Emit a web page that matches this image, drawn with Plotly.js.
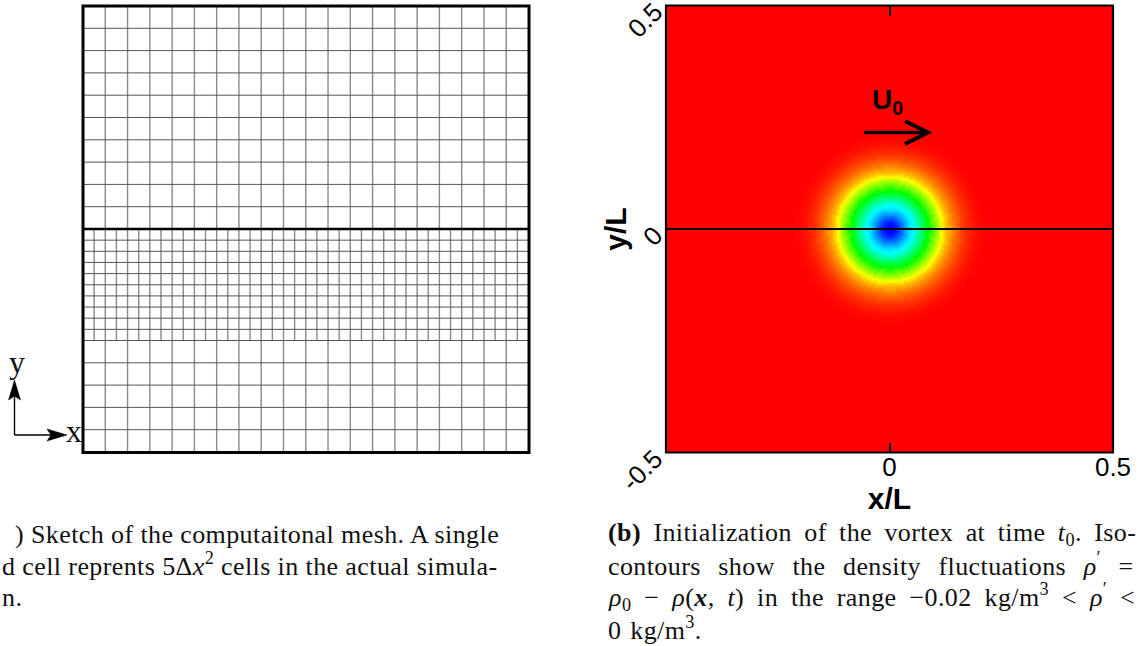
<!DOCTYPE html>
<html>
<head>
<meta charset="utf-8">
<script src="https://cdn.plot.ly/plotly-3.0.1.min.js"></script>
<style>
html,body{margin:0;padding:0;background:#fff}
#chart{width:1146px;height:646px}
.annotation[data-index="3"] text,.annotation[data-index="4"] text,.annotation[data-index="5"] text,
.annotation[data-index="6"] text,.annotation[data-index="7"] text,.annotation[data-index="8"] text,
.annotation[data-index="9"] text{letter-spacing:0.4px}
.annotation[data-index="6"] text{word-spacing:5.5px}
.annotation[data-index="7"] text{word-spacing:10.7px}
.annotation[data-index="8"] text{word-spacing:6px}
.annotation[data-index="9"] text{word-spacing:2px}
.xtitle{translate:0 -10px}
.ytitle{translate:20px 0}
.ytick text{translate:-13px 3px}
</style>
</head>
<body>
<div id="chart"></div>
<script>
// Mesh grid lines, in units of one coarse cell
const meshColumnsCoarse = [1,2,3,4,5,6,7,8,9,10,11,12,13,14,15,16,17,18,19];
const meshColumnsFine = [0.5,1.5,2.5,3.5,4.5,5.5,6.5,7.5,8.5,9.5,10.5,11.5,12.5,13.5,14.5,15.5,16.5,17.5,18.5,19.5];
const meshRowsCoarse = [1,2,3,4,5,6,7,8,9,10,11,12,13,14,15,16,17,18,19];
const meshRowsFine = [5.5,6.5,7.5,8.5,9.5];
const meshMidRowX = [0,20];
const meshMidRowY = [10,10];

// Density fluctuation (kg/m^3) against distance from the vortex centre
const radiusStep = 0.005;
const rhoByRadius = [
 -0.02,-0.01994,-0.0197,-0.0192,-0.0186,-0.018,-0.0173,-0.0167,-0.0161,-0.0155,
 -0.0151,-0.0144,-0.0136,-0.0129,-0.0122,-0.0114,-0.0107,-0.01,-0.0092,-0.0084,
 -0.0076,-0.0068,-0.006,-0.0052,-0.0045,-0.0039,-0.0034,-0.00296,-0.00256,-0.0022,
 -0.00188,-0.0016,-0.00134,-0.0011,-0.0009,-0.00072,-0.00056,-0.00042,-0.0003,-0.0002,
 -0.00014,-0.00008,-0.00004,0
];
const rhoColors = ['#0000ff','#00ffff','#00ff00','#ffff00','#ff0000'];
const rhoRange = [-0.02,0];

// Axis ticks
const xTickVals = [0,0.5];
const xTickText = ['0','0.5'];
const yTickVals = [-0.5,0,0.5];
const yTickText = ['-0.5','0','0.5'];
const centerLineX = [-0.5,0.5];
const centerLineY = [0,0];

// Captions
const captionLeft = [
 ') Sketch of the computaitonal mesh. A single',
 'd cell reprents 5Δ<i>x</i><sup>2</sup> cells in the actual simula-',
 'n.'
];
const captionRight = [
 '<b>(b)</b> Initialization of the vortex at time <i>t</i><sub>0</sub>. Iso-',
 'contours show the density fluctuations <i>ρ</i><sup>′</sup> =',
 '<i>ρ</i><sub>0</sub> − <i>ρ</i>(<b><i>x</i></b>, <i>t</i>) in the range −0.02 kg/m<sup>3</sup> &lt; <i>ρ</i><sup>′</sup> &lt;',
 '0 kg/m<sup>3</sup>.'
];

const W = 1146, H = 646;
const px = x => x / W, py = y => 1 - y / H;

// Build line segments from the grid lists
function segments(fixed, from, to, vertical) {
  const a = [], b = [];
  fixed.forEach(v => {
    a.push(v, v, null);
    b.push(from, to, null);
  });
  return vertical ? {x:a, y:b} : {x:b, y:a};
}
const meshAxes = {xaxis:'x2', yaxis:'y2', mode:'lines', hoverinfo:'skip', showlegend:false, type:'scatter', cliponaxis:false};
const vCoarse = segments(meshColumnsCoarse,0,20,true);
const vFine = segments(meshColumnsFine,5,10,true);
const hCoarse = segments(meshRowsCoarse,0,20,false);
const hFine = segments(meshRowsFine,0,20,false);

// Build the density field from the radial list
const gridN = 224;
const gridAxis = [];
for (let i=0;i<gridN;i++) gridAxis.push(-0.5 + i/(gridN-1));
const rhoField = gridAxis.map(y => gridAxis.map(x => {
  const k = Math.round(Math.hypot(x,y)/radiusStep);
  return k < rhoByRadius.length ? rhoByRadius[k] : 0;
}));

const traces = [
  Object.assign({}, meshAxes, vCoarse, {line:{color:'#8a8a8a',width:1.4}}),
  Object.assign({}, meshAxes, vFine, {line:{color:'#8a8a8a',width:1.4}}),
  Object.assign({}, meshAxes, hCoarse, {line:{color:'#555555',width:1}}),
  Object.assign({}, meshAxes, hFine, {line:{color:'#555555',width:1}}),
  Object.assign({}, meshAxes, {x:meshMidRowX, y:meshMidRowY, line:{color:'#000',width:2.4}}),
  {type:'heatmap', x:gridAxis, y:gridAxis, z:rhoField, zmin:rhoRange[0], zmax:rhoRange[1], zsmooth:'best',
   colorscale:rhoColors.map((c,i)=>[i/(rhoColors.length-1),c]), showscale:false, hoverinfo:'skip'},
  {type:'scatter', mode:'lines', x:centerLineX, y:centerLineY, line:{color:'#000',width:2.2}, hoverinfo:'skip', showlegend:false, cliponaxis:false}
];

function pathShape(points, closed, opts) {
  const d = points.map((p,i)=>(i?'L':'M')+px(p[0]).toFixed(5)+','+py(p[1]).toFixed(5)).join(' ')+(closed?' Z':'');
  return Object.assign({type:'path', xref:'paper', yref:'paper', path:d, layer:'above'}, opts);
}
const solidBlack = {fillcolor:'#000', line:{color:'#000',width:0.5}};
const shapes = [
  pathShape([[83,6],[529,6],[529,452.5],[83,452.5]], true, {line:{color:'#000',width:3}}),
  pathShape([[666,5.5],[1113,5.5],[1113,452.5],[666,452.5]], true, {line:{color:'#000',width:2.2}}),
  pathShape([[864,132.5],[926,132.5]], false, {line:{color:'#000',width:3.6}}),
  pathShape([[905,121],[928,132.5],[905,144]], false, {line:{color:'#000',width:3.8}}),
  pathShape([[14.5,435],[14.5,395]], false, {line:{color:'#000',width:1.4}}),
  pathShape([[14.5,435],[55,435]], false, {line:{color:'#000',width:1.4}}),
  pathShape([[14.5,380],[20.5,400],[14.5,396],[8.5,400]], true, solidBlack),
  pathShape([[67,435],[47,429],[51,435],[47,441]], true, solidBlack)
];

function label(text, x, y, size, extra) {
  return Object.assign({xref:'paper', yref:'paper', x:px(x), y:py(y), text:text, showarrow:false, align:'left',
    xanchor:'left', yanchor:'middle', font:{family:'Liberation Serif', size:size, color:'#111'}}, extra||{});
}
const capSize = 26;
const annotations = [
  label('y', 17, 362, 32, {xanchor:'center'}),
  label('x', 74, 431, 32, {xanchor:'center'}),
  label('<b>U<sub>0</sub></b>', 870, 101, 28, {font:{family:'Liberation Sans', size:28, color:'#000'}}),
  label(captionLeft[0], 13, 534, capSize),
  label(captionLeft[1], 0, 564, capSize),
  label(captionLeft[2], 0, 597, capSize),
  label(captionRight[0], 606, 534, capSize),
  label(captionRight[1], 606, 564, capSize),
  label(captionRight[2], 606, 597, capSize),
  label(captionRight[3], 606, 628, capSize)
];

const tickFont = {family:'Liberation Sans', size:26, color:'#000'};
const titleFont = {family:'Liberation Sans', size:30, color:'#000', weight:700};
const layout = {
  width:W, height:H, margin:{l:0,r:0,t:0,b:0}, paper_bgcolor:'#fff', plot_bgcolor:'#fff',
  showlegend:false, shapes:shapes, annotations:annotations,
  xaxis:{domain:[px(666),px(1113)], range:[-0.5,0.5], tickmode:'array', tickvals:xTickVals, ticktext:xTickText,
    ticks:'inside', ticklen:10, tickwidth:2, tickcolor:'#000', showgrid:false, zeroline:false, showline:false,
    mirror:'ticks', tickfont:tickFont, tickangle:0, ticklabelstandoff:-4, ticklabeloverflow:'allow',
    title:{text:'<b>x/L</b>', font:titleFont, standoff:0}, anchor:'y'},
  yaxis:{domain:[py(452.5),py(5.5)], range:[-0.5,0.5], tickmode:'array', tickvals:yTickVals, ticktext:yTickText,
    ticks:'', showgrid:false, zeroline:false, showline:false,
    tickfont:tickFont, tickangle:-45, ticklabelstandoff:-3, ticklabeloverflow:'allow',
    title:{text:'<b>y/L</b>', font:titleFont, standoff:0}, anchor:'x'},
  xaxis2:{domain:[px(83),px(528.5)], range:[0,20], visible:false, anchor:'y2'},
  yaxis2:{domain:[py(452),py(6)], range:[0,20], visible:false, anchor:'x2'}
};
Plotly.newPlot('chart', traces, layout, {displayModeBar:false, staticPlot:true});
</script>
</body>
</html>
